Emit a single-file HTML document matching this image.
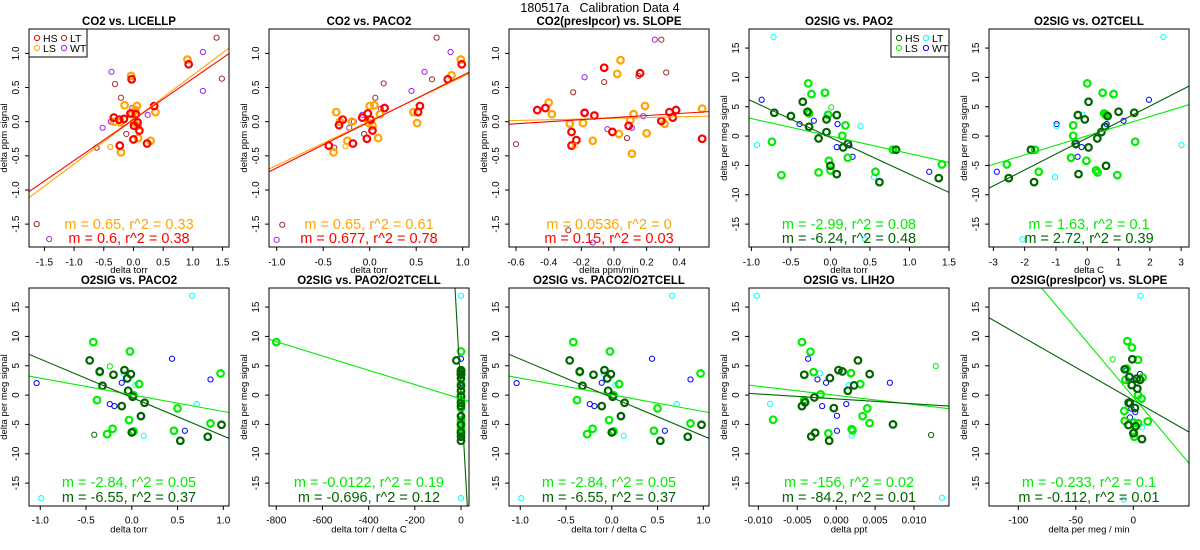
<!DOCTYPE html>
<html><head><meta charset="utf-8"><style>
html,body{margin:0;padding:0;background:#fff;}
svg{display:block;font-family:"Liberation Sans",sans-serif;}
</style></head><body>
<svg id="chart" width="1200" height="550" viewBox="0 0 1200 550" xmlns="http://www.w3.org/2000/svg">
<rect width="1200" height="550" fill="#fff"/>
<text x="600" y="12" text-anchor="middle" font-size="12.5" style="white-space:pre">180517a   Calibration Data 4</text>
</svg>
<script>
// ---------- data ----------
const p1_HS=[[0.93,0.84],[-0.03,0.62],[0.35,0.23],[-0.33,0.06],[-0.24,0.03],[-0.16,0.04],[-0.05,0.12],[0.04,0.11],[0.07,-0.01],[0.01,-0.06],[0.10,-0.13],[0,-0.26],[-0.23,-0.35],[0.23,-0.32]];
const p1_LS=[[0.91,0.91],[-0.04,0.67],[-0.15,0.24],[0.06,0.23],[0.37,0.14],[-0.02,0.11],[0.01,-0.01],[-0.33,0],[-0.22,-0.01],[0.07,-0.06],[0.08,-0.24],[0.29,-0.28],[-0.21,-0.45],[0.03,0.17]];
const p1_LT=[[1.40,1.23],[1.49,0.63],[-0.31,0.55],[-0.21,0.35],[-0.12,-0.18],[-0.62,-0.38],[-1.63,-1.5]];
const p1_WT=[[-0.37,0.73],[1.17,1.02],[1.17,0.45],[-0.02,0.2],[0.24,0.1],[-0.38,0],[-0.52,-0.09],[-1.42,-1.72]];
const p2_HS=[[0.99,0.84],[0.84,0.62],[0.54,0.23],[0.52,0.14],[0.16,0.20],[-0.02,0.12],[-0.08,0.06],[0.01,0.03],[0.03,-0.13],[-0.03,-0.25],[-0.18,-0.32],[-0.29,0.03],[-0.33,-0.05],[-0.44,-0.35]];
const p2_LS=[[0.98,0.91],[0.88,0.68],[0.47,0.14],[0.51,-0.02],[0,0.23],[0.05,0.24],[0.11,0.11],[0.09,-0.24],[-0.24,-0.28],[-0.36,0.14],[-0.32,0],[-0.19,0],[-0.39,-0.45],[-0.01,-0.02],[0.03,-0.06]];
const p2_LT=[[0.72,1.23],[0.67,0.62],[0.15,0.56],[0.06,0.35],[-0.06,-0.18],[-0.38,-0.38],[-0.94,-1.51]];
const p2_WT=[[0.87,1.02],[0.59,0.73],[0.45,0.45],[0.12,0.19],[-0.08,0.10],[-0.17,0],[-0.22,-0.09],[-1.0,-1.73]];
const p3_HS=[[-0.47,0.17],[-0.42,0.2],[-0.26,-0.15],[-0.26,-0.35],[-0.23,-0.27],[-0.18,0.13],[-0.12,0.09],[-0.06,0.79],[-0.01,-0.15],[0.09,-0.06],[0.16,0.71],[0.29,0.01],[0.34,0.14],[0.36,0.06],[0.38,0.17],[0.54,-0.25]];
const p3_LS=[[-0.40,0.28],[-0.38,0.11],[-0.27,-0.03],[-0.19,-0.02],[-0.13,-0.28],[0.02,0.70],[0.04,0.90],[0.03,-0.18],[0.10,0.02],[0.12,0.11],[0.11,-0.47],[0.19,0.23],[0.20,-0.17],[0.31,-0.03],[0.54,0.19]];
const p3_LT=[[-0.60,-0.33],[-0.25,0.43],[-0.06,0.58],[0.08,-0.24],[0.29,1.2],[0.32,0.72],[-0.28,-1.59],[0.15,0.67]];
const p3_WT=[[-0.18,0.65],[0.25,1.2],[0.18,0.08],[-0.04,-0.11],[0.11,-0.09],[-0.18,0.13],[-0.13,-1.77]];
const p4_HS=[[-0.71,3.98],[-0.50,3.41],[-0.35,5.85],[-0.29,4.15],[-0.27,1.59],[-0.15,-0.40],[-0.05,0.68],[-0.05,2.84],[0,-5.06],[0.08,3.58],[0.08,-6.48],[0.16,-1.93],[0.22,-1.31],[0.62,-7.84],[0.83,-2.33],[1.37,-7.16]];
const p4_LS=[[-0.74,-0.97],[-0.62,-6.65],[-0.28,8.98],[-0.24,7.16],[-0.27,3.86],[-0.07,7.39],[-0.03,3.64],[-0.02,-4.2],[0,-5.85],[-0.15,-6.19],[0.15,0.06],[0.19,1.82],[0.22,-3.69],[0.79,-2.33],[0.57,-6.08],[1.41,-4.83]];
const p4_LT=[[-0.72,16.9],[-0.93,-1.53],[0.38,1.7],[0.55,-6.99],[0.44,-17.6],[-0.02,3.64]];
const p4_WT=[[-0.87,6.19],[-0.39,2.05],[-0.21,2.61],[0.09,2.05],[0.08,-1.88],[0.24,-1.59],[0.28,-3.52],[1.25,-6.08]];
const p5_HS=[[-2.51,-7.16],[-1.80,-2.33],[-1.70,-7.84],[-0.30,3.58],[-0.37,-1.31],[-0.28,-6.48],[-0.08,2.84],[0.04,5.85],[0.04,-1.93],[0.32,-0.40],[0.45,0.68],[0.57,1.59],[0.60,-5.06],[0.65,3.41],[1.0,4.15],[1.5,3.98]];
const p5_LS=[[-2.57,-4.83],[-1.67,-2.33],[-1.55,-6.08],[-0.45,1.82],[-0.45,0.06],[-0.52,-3.69],[0,8.98],[-0.03,-4.2],[0.28,-5.85],[0.33,-6.19],[0.49,7.39],[0.54,3.86],[0.59,3.64],[0.84,7.16],[0.96,-6.65],[1.53,-0.97]];
const p5_LT=[[2.43,16.9],[3.01,-1.53],[-1.03,-6.99],[-0.98,1.7],[-2.07,-17.6],[-0.15,3.64]];
const p5_WT=[[-2.89,-6.08],[-0.98,2.05],[-0.36,-1.59],[-0.31,-3.52],[-0.18,-1.88],[0.62,2.05],[1.16,2.61],[1.97,6.19]];
const p6_HS=[[-0.46,5.91],[-0.35,4.03],[-0.20,3.47],[-0.08,4.26],[-0.05,2.84],[-0.01,3.58],[-0.04,0.74],[-0.32,1.59],[0.01,-0.28],[0.14,-1.31],[-0.11,-1.88],[0.10,-3.58],[0,-6.36],[0.53,-7.78],[0.83,-7.10],[0.98,-5.06]];
const p6_LS=[[-0.42,9.03],[-0.02,7.44],[-0.35,3.92],[0.08,1.88],[0.02,0],[-0.38,-0.85],[0.50,-2.27],[-0.03,-4.26],[0.02,-6.19],[-0.21,-5.74],[-0.27,-6.65],[0.46,-6.08],[0.86,-4.83],[0.97,3.69]];
const p6_LT=[[0.66,16.93],[-0.99,-17.56],[0.71,-1.53],[0.13,-6.93],[0.04,1.7],[-0.09,3.64]];
const p6_WT=[[-1.04,2.05],[0.44,6.19],[0.86,2.67],[-0.11,2.1],[-0.24,-1.53],[-0.19,-1.88],[0.10,-3.58],[0.58,-6.08]];
const p7_HS=[[-20,5.91],[0,4.03],[0,3.47],[0,4.26],[0,2.84],[0,3.58],[0,0.74],[0,1.59],[0,-0.28],[0,-1.31],[0,-1.88],[0,-3.58],[0,-6.36],[0,-7.78],[0,-7.10],[0,-5.06]];
const p7_LS=[[-800,9.03],[0,7.44],[0,3.92],[0,1.88],[0,0],[0,-0.85],[0,-2.27],[0,-4.26],[0,-6.19],[0,-5.74],[0,-6.65],[0,-6.08],[0,-4.83],[0,3.69]];
const p7_LT=[[0,16.93],[0,-17.56],[0,-1.53],[0,-6.93],[0,1.7],[0,3.64]];
const p7_WT=[[0,2.05],[0,6.19],[0,2.67],[0,2.1],[0,-1.53],[0,-1.88],[0,-3.58],[0,-6.08]];
const p9_HS=[[0.0028,5.91],[0.0043,3.58],[0.0003,4.26],[0.0008,4.03],[-0.0041,3.47],[-0.0008,2.90],[0.0023,1.65],[0.0015,0.74],[-0.0028,-0.40],[-0.0040,-1.25],[-0.0044,-1.88],[-0.0003,-2.22],[-0.0027,-6.42],[-0.0032,-7.05],[-0.0009,-7.78],[0.0073,-5.0]];
const p9_LS=[[-0.0044,9.03],[-0.0033,7.39],[-0.0029,3.92],[0.0019,3.75],[0.0031,1.88],[-0.0020,0.11],[-0.0041,-0.85],[0.0040,-2.27],[0.0034,-3.58],[0.0043,-4.77],[-0.0081,-4.2],[-0.0010,-6.53],[0.0021,-6.02],[0.0020,-5.8]];
const p9_LT=[[-0.0102,16.93],[0.0136,-17.5],[-0.0085,-1.48],[0.0016,1.7],[-0.0021,3.7],[0.0020,-6.9]];
const p9_WT=[[-0.0036,6.19],[-0.0024,2.67],[-0.0013,2.1],[0.0069,2.1],[-0.0018,-1.88],[0.0013,-1.53],[0.0001,-3.52],[0.0001,-6.08]];
const p10_HS=[[-7.5,4.4],[-0.9,6.1],[-3.5,3.1],[2.9,2.8],[5.8,2.6],[-1.4,1.7],[3.5,1.1],[-4.1,-1.3],[1.4,-2.2],[-4.3,-5.1],[7.5,-7.5],[0,-6.5],[-3.0,-1.4],[2.0,-5.3]];
const p10_LS=[[-5.2,9.2],[-1.2,8.1],[4.1,6.0],[-5.8,4.5],[-6.9,2.6],[8.1,3.0],[4.1,0],[7.2,-0.6],[-7.8,-2.7],[-7.5,-4.4],[0.6,-4.7],[4.1,-4.8],[12.5,-4.5],[0.6,-6.4],[0.9,-7.1]];
const p10_LT=[[6.1,16.9],[-8.4,-17.8],[7.5,-5.5]];
const p10_WT=[[-5.8,4.2],[-4.1,2.4],[0.3,2.6],[5.8,3.6],[-1.7,-2.3],[1.7,-2.9],[-2.9,-3.8]];
const thinExtra={p4:[[0.01,4.9,'LS']],p6:[[-0.41,-6.76,'HS'],[-0.24,4.9,'LS']],p9:[[0.0122,-6.8,'HS'],[0.0128,4.94,'LS']],p10:[[-18,6.1,'LS']],p1:[[-0.39,-0.37,'LS']],p2:[[-0.26,-0.36,'LS']],p3:[[-0.24,-0.35,'LS']]};
const slopes=[[0.65,0.6],[0.65,0.677],[0.0536,0.15],[-2.99,-6.24],[1.63,2.72],[-2.84,-6.55],[-0.0122,-0.696],[-2.84,-6.55],[-156,-84.2],[-0.233,-0.112]];
const intercepts=[[0.031,0.031],[0.01,0.0],[0.05,0.06],[0.0,-0.24],[0.06,-0.33],[0.05,-0.41],[-0.65,0.14],[0.05,-0.41],[-0.05,-0.65],[-0.33,-0.88]];
const fitLabels=[["m = 0.65, r^2 = 0.33","m = 0.6, r^2 = 0.38"],["m = 0.65, r^2 = 0.61","m = 0.677, r^2 = 0.78"],["m = 0.0536, r^2 = 0","m = 0.15, r^2 = 0.03"],["m = -2.99, r^2 = 0.08","m = -6.24, r^2 = 0.48"],["m = 1.63, r^2 = 0.1","m = 2.72, r^2 = 0.39"],["m = -2.84, r^2 = 0.05","m = -6.55, r^2 = 0.37"],["m = -0.0122, r^2 = 0.19","m = -0.696, r^2 = 0.12"],["m = -2.84, r^2 = 0.05","m = -6.55, r^2 = 0.37"],["m = -156, r^2 = 0.02","m = -84.2, r^2 = 0.01"],["m = -0.233, r^2 = 0.1","m = -0.112, r^2 = 0.01"]];
const titles=["CO2 vs. LICELLP","CO2 vs. PACO2","CO2(presIpcor) vs. SLOPE","O2SIG vs. PAO2","O2SIG vs. O2TCELL","O2SIG vs. PACO2","O2SIG vs. PAO2/O2TCELL","O2SIG vs. PACO2/O2TCELL","O2SIG vs. LIH2O","O2SIG(presIpcor) vs. SLOPE"];
const xTitles=["delta torr","delta torr","delta ppm/min","delta torr","delta C","delta torr","delta torr / delta C","delta torr / delta C","delta ppt","delta per meg / min"];
const xTicks=[[-1.5,-1.0,-0.5,0.0,0.5,1.0,1.5],[-1.0,-0.5,0.0,0.5,1.0],[-0.6,-0.4,-0.2,0.0,0.2,0.4],[-1.0,-0.5,0.0,0.5,1.0,1.5],[-3,-2,-1,0,1,2,3],[-1.0,-0.5,0.0,0.5,1.0],[-800,-600,-400,-200,0],[-1.0,-0.5,0.0,0.5,1.0],[-0.010,-0.005,0.000,0.005,0.010],[-100,-50,0]];
const xTickLabels=[["-1.5","-1.0","-0.5","0.0","0.5","1.0","1.5"],["-1.0","-0.5","0.0","0.5","1.0"],["-0.6","-0.4","-0.2","0.0","0.2","0.4"],["-1.0","-0.5","0.0","0.5","1.0","1.5"],["-3","-2","-1","0","1","2","3"],["-1.0","-0.5","0.0","0.5","1.0"],["-800","-600","-400","-200","0"],["-1.0","-0.5","0.0","0.5","1.0"],["-0.010","-0.005","0.000","0.005","0.010"],["-100","-50","0"]];
const yTicksCO2=[-1.5,-1.0,-0.5,0.0,0.5,1.0];
const yTickLabelsCO2=["-1.5","-1.0","-0.5","0.0","0.5","1.0"];
const yTicksO2=[-15,-10,-5,0,5,10,15];
const yTickLabelsO2=["-15","-10","-5","0","5","10","15"];

// ---------- layout ----------
const NS="http://www.w3.org/2000/svg";
const svg=document.getElementById('chart');
const cols=[29,269,509,749,989], rowsY=[29,288], PW=200, PH=218;
const xDom=[[-1.76,1.61],[-1.083,1.068],[-0.643,0.582],[-1.03,1.5],[-3.14,3.25],[-1.123,1.062],[-831.5,34.6],[-1.123,1.062],[-0.0112,0.0145],[-125.5,48.4]];
const yDomCO2=[-1.835,1.357], yDomO2=[-18.9,18.25];
const co2Col={HS:'#ff0000',LS:'#ffa500',LT:'#a52a2a',WT:'#a020f0'};
const o2Col={HS:'#006400',LS:'#00ee00',LT:'#00ffff',WT:'#0000ff'};
const series=[[p1_HS,p1_LS,p1_LT,p1_WT],[p2_HS,p2_LS,p2_LT,p2_WT],[p3_HS,p3_LS,p3_LT,p3_WT],[p4_HS,p4_LS,p4_LT,p4_WT],[p5_HS,p5_LS,p5_LT,p5_WT],[p6_HS,p6_LS,p6_LT,p6_WT],[p7_HS,p7_LS,p7_LT,p7_WT],[p6_HS,p6_LS,p6_LT,p6_WT],[p9_HS,p9_LS,p9_LT,p9_WT],[p10_HS,p10_LS,p10_LT,p10_WT]];
const keys=['HS','LS','LT','WT'];

function mk(tag,attrs,parent){const e=document.createElementNS(NS,tag);for(const k in attrs)e.setAttribute(k,attrs[k]);(parent||svg).appendChild(e);return e;}

for(let i=0;i<10;i++){
  const L=cols[i%5], T=rowsY[Math.floor(i/5)], B=T+PH, R=L+PW;
  const isCO2=i<3, yd=isCO2?yDomCO2:yDomO2, xd=xDom[i], col=isCO2?co2Col:o2Col;
  const row2=i>=5;
  const sx=v=>L+(v-xd[0])/(xd[1]-xd[0])*PW;
  const sy=v=>B-(v-yd[0])/(yd[1]-yd[0])*PH;
  const g=mk('g',{});
  
  
  const cp=mk('clipPath',{id:'cp'+i},g);mk('rect',{x:L,y:T,width:PW,height:PH},cp);
  const t=mk('text',{x:L+PW/2,y:T-4,'text-anchor':'middle','font-size':'11.5','font-weight':'bold'},g);t.textContent=titles[i];
  
  
  const xt=xTicks[i];
  for(let k=0;k<xt.length;k++){const x=sx(xt[k]);mk('line',{x1:x,y1:B,x2:x,y2:B+4,stroke:'#000','stroke-width':1},g);
    const tl=mk('text',{x:x,y:B+(row2?17.5:18.5),'text-anchor':'middle','font-size':'10'},g);tl.textContent=xTickLabels[i][k];
    
    }
  const xa=mk('text',{x:L+PW/2,y:B+(row2?26.5:26),'text-anchor':'middle','font-size':'9.5'},g);xa.textContent=xTitles[i];
  
  
  const yt=isCO2?yTicksCO2:yTicksO2, ytl=isCO2?yTickLabelsCO2:yTickLabelsO2;
  for(let k=0;k<yt.length;k++){const y=sy(yt[k]);mk('line',{x1:L-4,y1:y,x2:L,y2:y,stroke:'#000','stroke-width':1},g);
    const tl=mk('text',{x:L-10,y:y,'text-anchor':'middle','font-size':'10',transform:`rotate(-90 ${L-10} ${y})`},g);tl.textContent=ytl[k];
    
    }
  const ya=mk('text',{x:L-22,y:T+PH/2,'text-anchor':'middle','font-size':'9.5',transform:`rotate(-90 ${L-22} ${T+PH/2})`},g);ya.textContent=isCO2?'delta ppm signal':'delta per meg signal';
  
  
  const pg=mk('g',{},g);
  for(let s=3;s>=0;s--){const thick=s<2;
    series[i][s].forEach(p=>{const c=mk('circle',{cx:sx(p[0]),cy:sy(p[1]),r:thick?3.3:2.6,fill:'none',stroke:col[keys[s]],'stroke-width':thick?2.2:1},pg);
      
      });}
  (thinExtra['p'+(i+1)]||[]).forEach(p=>{const c=mk('circle',{cx:sx(p[0]),cy:sy(p[1]),r:2.6,fill:'none',stroke:col[p[2]],'stroke-width':1},pg);
    
    });
  for(let s=0;s<2;s++){const m=slopes[i][s],b=intercepts[i][s];
    const ln=mk('line',{x1:sx(xd[0]),y1:sy(m*xd[0]+b),x2:sx(xd[1]),y2:sy(m*xd[1]+b),stroke:s==0?col.LS:col.HS,'stroke-width':1.1,'clip-path':`url(#cp${i})`},g);
    
    }
  const off=i<5?[-18,-4]:[-19,-4];
  for(let s=0;s<2;s++){const tx=mk('text',{x:L+PW/2,y:B+off[s],'text-anchor':'middle','font-size':'14.5',fill:s==0?col.LS:col.HS},g);tx.textContent=fitLabels[i][s];
    
    }
  const box=mk('rect',{x:L,y:T,width:PW,height:PH,fill:'none',stroke:'#000','stroke-width':1},g);
  
  
  if(i==0||i==3){const lw=58,lh=28,lx=i==0?L:R-lw,ly=T;
    const lg=mk('g',{},g);
    
    
    mk('rect',{x:lx,y:ly,width:lw,height:lh,fill:'#fff',stroke:'#000','stroke-width':1},lg);
    const pos=[[0,0],[0,1],[1,0],[1,1]];
    keys.forEach((k,j)=>{const px=lx+8+pos[j][0]*27,py=ly+9+pos[j][1]*10;
      mk('circle',{cx:px,cy:py,r:2.6,fill:'none',stroke:col[k],'stroke-width':1},lg);
      const lt=mk('text',{x:px+6,y:py+4,'font-size':'10.5'},lg);lt.textContent=k;
      
      });}
}
</script>
</body></html>
